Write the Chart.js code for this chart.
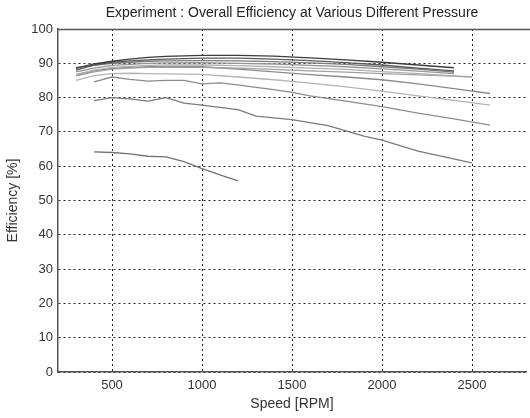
<!DOCTYPE html>
<html>
<head>
<meta charset="utf-8">
<script src="https://cdn.jsdelivr.net/npm/chart.js@4.4.1/dist/chart.umd.min.js"></script>
<style>
  html, body { margin: 0; padding: 0; background: #fff; overflow: hidden; }
</style>
</head>
<body>
<canvas id="effChart" width="530" height="418"></canvas>
<script>
  // axis ticks
  const speedTicks = [500, 1000, 1500, 2000, 2500];
  const effTicks = [0, 10, 20, 30, 40, 50, 60, 70, 80, 90, 100];

  // one efficiency curve per supply pressure (highest pressure first)
  const speedTop = [300, 400, 500, 600, 700, 800, 1000, 1200, 1400, 1600, 1800, 2000, 2200, 2400];
  const eff1 = [88.5, 89.8, 90.6, 91.2, 91.7, 92.0, 92.3, 92.3, 92.1, 91.6, 91.0, 90.3, 89.5, 88.7];
  const eff2 = [88.0, 89.5, 90.3, 90.7, 91.0, 91.2, 91.5, 91.5, 91.2, 90.8, 90.2, 89.5, 88.6, 87.8];
  const eff3 = [88.8, 89.4, 90.0, 90.3, 90.6, 90.7, 90.8, 90.7, 90.5, 90.1, 89.7, 89.0, 88.3, 87.4];
  const eff4 = [87.5, 88.6, 89.4, 89.7, 90.0, 90.1, 90.2, 90.0, 89.8, 89.4, 89.0, 88.4, 87.7, 87.0];
  const eff5 = [86.8, 88.0, 88.8, 89.1, 89.4, 89.5, 89.5, 89.3, 89.0, 88.6, 88.2, 87.6, 87.0, 86.3];

  const speed6 = [300, 400, 500, 600, 700, 800, 1000, 1200, 1400, 1600, 1800, 2000, 2200, 2400, 2500];
  const eff6 = [86.3, 87.5, 88.3, 88.6, 88.8, 88.9, 88.8, 88.6, 88.2, 87.8, 87.4, 87.0, 86.6, 86.3, 86.0];

  const speed7 = [300, 400, 500, 600, 700, 800, 1000, 1200, 1400, 1600, 1800, 2000, 2200, 2400, 2600];
  const eff7 = [86.5, 87.8, 88.5, 88.8, 89.0, 89.0, 89.0, 88.3, 87.5, 86.7, 86.0, 85.2, 84.0, 82.6, 81.2];
  const eff8 = [85.0, 86.4, 87.0, 87.1, 87.0, 86.9, 86.8, 86.0, 85.2, 84.2, 83.1, 81.9, 80.5, 79.2, 77.8];

  const speed9 = [400, 500, 600, 700, 800, 900, 1000, 1100, 1200, 1300, 1400, 1500, 1600, 1800, 2000, 2200, 2400, 2600];
  const eff9 = [84.6, 86.0, 85.3, 84.8, 85.0, 85.0, 84.0, 84.3, 83.7, 83.0, 82.3, 81.5, 80.5, 79.0, 77.4, 75.5, 73.8, 72.0];

  const speed10 = [400, 500, 600, 700, 800, 900, 1000, 1200, 1300, 1500, 1700, 1900, 2000, 2200, 2500];
  const eff10 = [79.1, 80.0, 79.6, 79.0, 80.0, 78.4, 77.8, 76.5, 74.6, 73.6, 71.8, 68.8, 67.6, 64.4, 61.0];

  const speed11 = [400, 500, 600, 700, 800, 900, 1000, 1100, 1200];
  const eff11 = [64.2, 64.0, 63.6, 62.9, 62.7, 61.3, 59.3, 57.5, 55.7];

  const curves = [
    { speed: speedTop, eff: eff1, color: '#3c3c3c' },
    { speed: speedTop, eff: eff2, color: '#5a5a5a' },
    { speed: speedTop, eff: eff3, color: '#7a7a7a' },
    { speed: speedTop, eff: eff4, color: '#959595' },
    { speed: speedTop, eff: eff5, color: '#b0b0b0' },
    { speed: speed6, eff: eff6, color: '#a0a0a0' },
    { speed: speed7, eff: eff7, color: '#8a8a8a' },
    { speed: speed7, eff: eff8, color: '#b4b4b4' },
    { speed: speed9, eff: eff9, color: '#8c8c8c' },
    { speed: speed10, eff: eff10, color: '#7a7a7a' },
    { speed: speed11, eff: eff11, color: '#737373' },
  ];

  const datasets = curves.map(c => ({
    data: c.speed.map((s, i) => ({ x: s, y: c.eff[i] })),
    borderColor: c.color,
    borderWidth: 1.3,
    pointRadius: 0,
    fill: false,
    tension: 0
  }));

  // solid frame line along the top of the plot area
  const topFrame = {
    id: 'topFrame',
    afterDraw(chart) {
      const { ctx, chartArea } = chart;
      ctx.save();
      ctx.strokeStyle = '#555';
      ctx.lineWidth = 1.5;
      ctx.beginPath();
      ctx.moveTo(chartArea.left, chartArea.top + 0.5);
      ctx.lineTo(chart.width, chartArea.top + 0.5);
      ctx.stroke();
      ctx.restore();
    }
  };

  const family = "'Liberation Sans', Arial, sans-serif";
  const tickFont = { family, size: 13 };
  const labelFont = { family, size: 14 };

  new Chart(document.getElementById('effChart'), {
    type: 'line',
    data: { datasets },
    plugins: [topFrame],
    options: {
      responsive: false,
      animation: false,
      layout: { padding: { right: 4 } },
      plugins: {
        legend: { display: false },
        tooltip: { enabled: false },
        title: {
          display: true,
          fullSize: false,
          text: 'Experiment : Overall Efficiency at Various Different Pressure',
          color: '#222',
          font: { ...labelFont, weight: 'normal' },
          padding: { top: 5, bottom: 7.2 }
        }
      },
      scales: {
        x: {
          type: 'linear',
          min: 200,
          max: 2800,
          afterBuildTicks: s => { s.ticks = speedTicks.map(v => ({ value: v })); },
          afterFit: s => { s.height = 46; },
          ticks: { color: '#333', font: tickFont, padding: 6, callback: v => String(v) },
          grid: { color: '#222', lineWidth: 1, drawTicks: false },
          border: { display: true, color: '#555', width: 1.5, dash: [2, 3] },
          title: { display: true, text: 'Speed [RPM]', color: '#333', font: labelFont, padding: { top: 0, bottom: 5 } }
        },
        y: {
          min: 0,
          max: 100,
          afterBuildTicks: s => { s.ticks = effTicks.map(v => ({ value: v })); },
          afterFit: s => { s.width = 58; },
          ticks: { color: '#333', font: tickFont, padding: 5 },
          grid: { color: '#222', lineWidth: 1, drawTicks: false },
          border: { display: true, color: '#555', width: 1.5, dash: [2, 3] },
          title: { display: true, text: 'Efficiency [%]', color: '#333', font: labelFont, padding: { top: 5, bottom: 0 } }
        }
      }
    }
  });
</script>
</body>
</html>
